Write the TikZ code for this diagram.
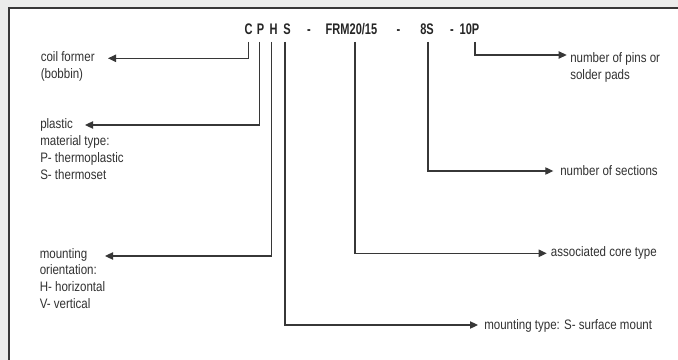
\documentclass[tikz,border=0pt]{standalone}
\usepackage{fontspec}
\setmainfont{Liberation Sans}[FakeStretch=0.84]
\newfontfamily\titlefont{Liberation Sans}[FakeStretch=0.72]
\usetikzlibrary{arrows.meta}
\definecolor{bggray}{RGB}{235,236,235}
\definecolor{ink}{RGB}{55,55,55}
\definecolor{txt}{RGB}{50,50,50}
\begin{document}
\begin{tikzpicture}[x=0.75pt,y=-0.75pt,
  conn/.style={draw=ink,line width=0.8pt,-{Triangle[length=6pt,width=5.5pt]}},
  lbl/.style={anchor=base west,inner sep=0pt,text=txt,align=left,font=\fontsize{10.3}{12.6}\selectfont},
  ttl/.style={anchor=base,inner sep=0pt,text=black!85,font=\titlefont\bfseries\fontsize{11.5}{13}\selectfont}]
\useasboundingbox (0,0) rectangle (678,360);
\fill[bggray] (0,0) rectangle (678,360);
\fill[white] (9,8) rectangle (678,360);
\draw[ink,line width=1.2pt] (9,360) -- (9,8) -- (678,8);
% title
\node[ttl] (tC) at (248.5,35) {C};
\node[ttl] (tP) at (260.5,35) {P};
\node[ttl] (tH) at (273.5,35) {H};
\node[ttl] (tS) at (287,35) {S};
\node[ttl] (d1) at (309,35) {-};
\node[ttl] (tF) at (351.5,35) {FRM20/15};
\node[ttl] (d2) at (398.5,35) {-};
\node[ttl] (t8) at (427,35) {8S};
\node[ttl] (d3) at (452,35) {-};
\node[ttl] (t10) at (469.5,35) {10P};
% labels (base = baseline of the last line)
\node[lbl] (coil) at (40.5,78.5) {coil former\\(bobbin)};
\node[lbl] (plast) at (40,179) {plastic\\material type:\\P- thermoplastic\\S- thermoset};
\node[lbl] (orient) at (39.5,308.5) {mounting\\orientation:\\H- horizontal\\V- vertical};
\node[lbl] (pins) at (570,79.5) {number of pins or\\solder pads};
\node[lbl] (sect) at (560,175) {number of sections};
\node[lbl] (core) at (550.7,256.7) {associated core type};
\node[lbl] (mtype) at (484,329) {mounting type: S- surface mount};
% connector ends
\coordinate (cC) at (248.3,42);
\coordinate (cP) at (259.3,42);
\coordinate (cH) at (271.7,42);
\coordinate (cS) at (285,42);
\coordinate (cF) at (355,42);
\coordinate (c8) at (428,42);
\coordinate (c10) at (475,42);
\coordinate (aCoil) at (108,58.3);
\coordinate (aPlast) at (85,125);
\coordinate (aOrient) at (105,256);
\coordinate (aMtype) at (478,325);
\coordinate (aCore) at (546.7,253.3);
\coordinate (aSect) at (553.3,171);
\coordinate (aPins) at (566.7,55);
\draw[conn] (cC) |- (aCoil);
\draw[conn] (cP) |- (aPlast);
\draw[conn] (cH) |- (aOrient);
\draw[conn] (cS) |- (aMtype);
\draw[conn] (cF) |- (aCore);
\draw[conn] (c8) |- (aSect);
\draw[conn] (c10) |- (aPins);
\end{tikzpicture}
\end{document}
